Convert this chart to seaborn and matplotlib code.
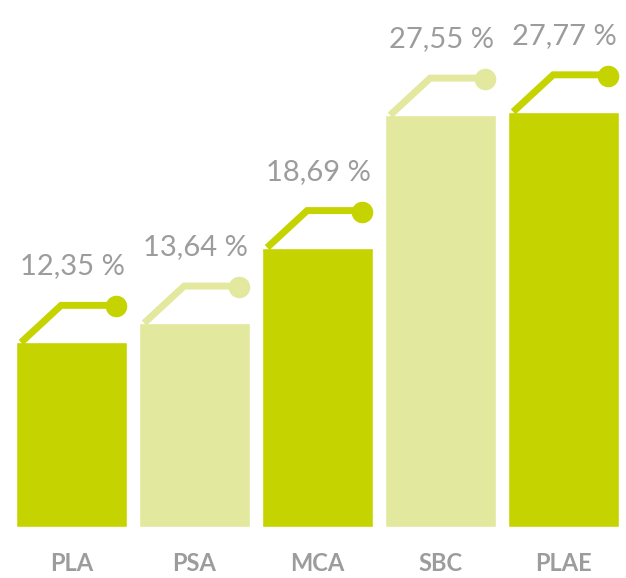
import numpy as np
import pandas as pd
import matplotlib
matplotlib.use("Agg")
import matplotlib.pyplot as plt
import seaborn as sns

# chart data
categories = ["PLA", "PSA", "MCA", "SBC", "PLAE"]
values = [12.35, 13.64, 18.69, 27.55, 27.77]
value_labels = ["12,35 %", "13,64 %", "18,69 %", "27,55 %", "27,77 %"]

DARK = "#c5d400"
PALE = "#e3e89f"
GREY = "#9c9c9c"
colors = [DARK, PALE, DARK, PALE, DARK]

df = pd.DataFrame({"cat": categories, "val": values})

sns.set_style("white")
plt.rcParams["font.family"] = ["Lato", "DejaVu Sans"]

fig = plt.figure(figsize=(6.26, 5.78), dpi=100)
ax = fig.add_axes([0, 0.0882, 1, 0.9118])

BAR_W = 0.9
sns.barplot(data=df, x="cat", y="val", hue="cat", palette=colors,
            width=BAR_W, legend=False, ax=ax, saturation=1)

ax.set_xlim(-0.581, 4.508)
ax.set_ylim(0, 35.25)

# pixel -> data conversions (123 px per category, ~14.95 px per unit)
px_x = 1 / 123
px_y = 1 / 14.95

for i, (v, lab, c) in enumerate(zip(values, value_labels, colors)):
    left = i - BAR_W / 2
    xs = [left + 5 * px_x, left + 45 * px_x, left + 100 * px_x]
    ys = [v, v + 37 * px_y, v + 37 * px_y]
    ax.plot(xs, ys, color=c, lw=5, solid_capstyle="butt",
            solid_joinstyle="miter", zorder=3)
    ax.plot(xs[-1], ys[-1] - 1 * px_y, "o", color=c, ms=14.5, zorder=4)
    ax.text(left + 4 * px_x, v + 68 * px_y, lab, color=GREY,
            fontsize=21, fontweight="normal", ha="left", va="baseline")

ax.set_xlabel("")
ax.set_ylabel("")
ax.set_yticks([])
ax.tick_params(axis="x", length=0, pad=18)
for t in ax.get_xticklabels():
    t.set_color(GREY)
    t.set_fontweight("bold")
    t.set_fontsize(17)
sns.despine(ax=ax, left=True, bottom=True, top=True, right=True)

fig.savefig("out.png", dpi=100)
